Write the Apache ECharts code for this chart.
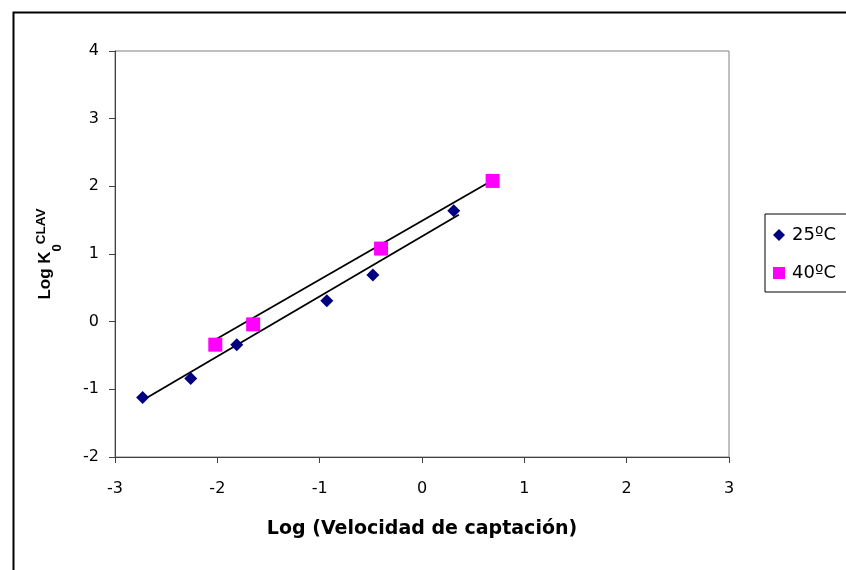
<!DOCTYPE html>
<html><head><meta charset="utf-8">
<script src="https://cdn.jsdelivr.net/npm/echarts@6/dist/echarts.min.js"></script>
<style>html,body{margin:0;padding:0;background:#fff}#c{width:846px;height:570px}</style>
</head><body><div id="c"></div>
<script>
// Data
var seriesNames = ['25ºC', '40ºC'];
var x25 = [-2.73, -2.26, -1.81, -0.93, -0.48, 0.31];
var y25 = [-1.12, -0.84, -0.34, 0.31, 0.69, 1.64];
var x40 = [-2.02, -1.65, -0.40, 0.69];
var y40 = [-0.34, -0.04, 1.08, 2.08];
// Trend line end points
var trend25X = [-2.73, 0.36];
var trend25Y = [-1.16, 1.58];
var trend40X = [-2.06, 0.69];
var trend40Y = [-0.30, 2.09];
var xTicks = [-3, -2, -1, 0, 1, 2, 3];
var yTicks = [-2, -1, 0, 1, 2, 3, 4];

function pairs(xs, ys){ return xs.map(function(v,i){ return [v, ys[i]]; }); }

var font = 'DejaVu Sans, Liberation Sans, Arial, sans-serif';
var fontA = 'Liberation Sans, Arial, sans-serif';
var chart = echarts.init(document.getElementById('c'), null, {renderer:'canvas'});
chart.setOption({
  animation: false,
  backgroundColor: '#fff',
  textStyle: {fontFamily: font},
  grid: {left: 115, right: 117, top: 51, bottom: 113, show: true, borderColor: '#808080', borderWidth: 1},
  xAxis: {
    type: 'value', min: xTicks[0], max: xTicks[xTicks.length-1], interval: 1,
    axisLine: {onZero: false, lineStyle: {color: '#404040', width: 1}},
    axisTick: {show: true, inside: false, length: 6, lineStyle: {color: '#404040'}},
    splitLine: {show: false},
    axisLabel: {color: '#000', fontSize: 16, fontFamily: font, margin: 24},
    name: 'Log (Velocidad de captación)', nameLocation: 'middle', nameGap: 63,
    nameTextStyle: {color: '#000', fontSize: 19, fontWeight: 'bold', fontFamily: font}
  },
  yAxis: {
    type: 'value', min: yTicks[0], max: yTicks[yTicks.length-1], interval: 1,
    axisLine: {onZero: false, lineStyle: {color: '#404040', width: 1}},
    axisTick: {show: true, length: 6, lineStyle: {color: '#404040'}},
    splitLine: {show: false},
    axisLabel: {color: '#000', fontSize: 16, fontFamily: font, margin: 16},
    name: '{b|Log K}{sub|0}{sup|CLAV}', nameLocation: 'middle', nameGap: 55, nameRotate: 90,
    nameTextStyle: {
      color: '#000', fontFamily: fontA,
      rich: {
        b: {fontSize: 17, fontWeight: 'bold', color: '#000', fontFamily: fontA, lineHeight: 30, verticalAlign: 'middle'},
        sub: {fontSize: 13, fontWeight: 'bold', color: '#000', fontFamily: fontA, lineHeight: 30, verticalAlign: 'bottom', padding: [0,0,-4,0]},
        sup: {fontSize: 13.5, fontWeight: 'bold', color: '#000', fontFamily: fontA, lineHeight: 30, verticalAlign: 'top', padding: [4,0,0,0]}
      }
    }
  },
  legend: {
    orient: 'vertical', left: 765, top: 214,
    data: [{name: seriesNames[0], icon: 'diamond'}, {name: seriesNames[1], icon: 'rect'}],
    itemWidth: 12, itemHeight: 12, itemGap: 20,
    padding: [12, 24, 10, 8],
    borderColor: '#000', borderWidth: 1,
    textStyle: {color: '#000', fontSize: 18, lineHeight: 18, fontFamily: font, padding: [0,0,0,2]}
  },
  graphic: [{
    type: 'rect', left: 11, top: 10, silent: true,
    shape: {x: 0, y: 0, width: 900, height: 600},
    style: {fill: 'none', stroke: '#000', lineWidth: 2}
  }],
  series: [
    {name: 'trend25', type: 'line', data: pairs(trend25X, trend25Y), symbol: 'none',
     lineStyle: {color: '#000', width: 1.8}, z: 3, legendHoverLink: false},
    {name: 'trend40', type: 'line', data: pairs(trend40X, trend40Y), symbol: 'none',
     lineStyle: {color: '#000', width: 1.8}, z: 3, legendHoverLink: false},
    {name: seriesNames[0], type: 'scatter', data: pairs(x25, y25), symbol: 'diamond', symbolSize: 13,
     itemStyle: {color: '#000080', opacity: 1}, z: 4},
    {name: seriesNames[1], type: 'scatter', data: pairs(x40, y40), symbol: 'rect', symbolSize: 14,
     itemStyle: {color: '#FF00FF', opacity: 1}, z: 4}
  ]
});
</script></body></html>
